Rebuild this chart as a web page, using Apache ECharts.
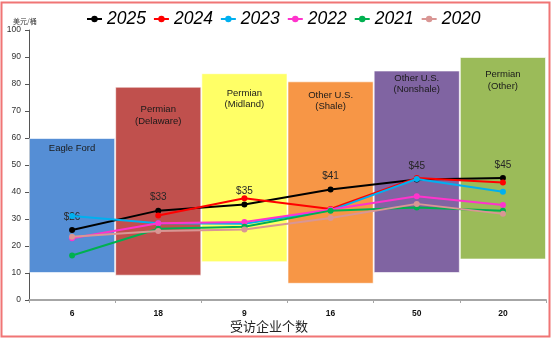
<!DOCTYPE html>
<html>
<head>
<meta charset="utf-8">
<script src="https://cdn.jsdelivr.net/npm/echarts@6/dist/echarts.min.js"></script>
<style>
html,body{margin:0;padding:0;background:#fff;}
#c{width:554px;height:340px;}
</style>
</head>
<body>
<div id="c"></div>
<script>
// ---- data ----
const categories = ['6', '18', '9', '16', '50', '20'];
const regionNames = ['Eagle Ford', 'Permian\n(Delaware)', 'Permian\n(Midland)', 'Other U.S.\n(Shale)', 'Other U.S.\n(Nonshale)', 'Permian\n(Other)'];
const rangeLow  = [10, 9, 14, 6, 10, 15];
const rangeHigh = [60, 79, 84, 81, 85, 90];
const years = ['2025', '2024', '2023', '2022', '2021', '2020'];
const s2025 = [25.9, 33.1, 35.4, 40.9, 44.6, 45.2];
const s2024 = [null, 31.3, 37.7, 33.7, 45.2, 43.5];
const s2023 = [31.1, 28.4, 28.2, 33.2, 44.8, 40.1];
const s2022 = [22.9, 28.4, 28.9, 33.5, 38.4, 35.2];
const s2021 = [16.5, 26.4, 27.1, 33.1, 34.3, 33.1];
const s2020 = [23.4, 25.6, 26.1, 30.4, 35.6, 31.9];
const yTicks = [0, 10, 20, 30, 40, 50, 60, 70, 80, 90, 100];

// ---- styles ----
const barColors = ['#558ED5', '#C0504D', '#FFFF66', '#F79646', '#8064A2', '#9BBB59'];
const barLabelDist = [5, 17, 14, 8, 2, 12];
const lineColors = ['#000000', '#FF0000', '#00B0F0', '#FF33CC', '#00B050', '#D99694'];
const lineSeriesData = [s2025, s2024, s2023, s2022, s2021, s2020];
const FONT = 'Liberation Sans, Arial, sans-serif';

const chart = echarts.init(document.getElementById('c'));

const series = [
  {
    type: 'bar', stack: 'range', barWidth: '100%', silent: true,
    itemStyle: { color: 'transparent' },
    data: rangeLow
  },
  {
    type: 'bar', stack: 'range', barWidth: '100%', silent: true,
    data: rangeHigh.map((h, i) => ({
      value: h - rangeLow[i],
      itemStyle: { color: barColors[i], borderColor: 'rgba(255,255,255,0.6)', borderWidth: 1 },
      label: { distance: barLabelDist[i] }
    })),
    label: {
      show: true, position: 'insideTop',
      formatter: p => regionNames[p.dataIndex],
      fontFamily: FONT, fontSize: 9.5, lineHeight: 11.5, color: '#1a1a1a'
    }
  }
];

years.forEach((y, k) => {
  series.push({
    name: y, type: 'line', data: lineSeriesData[k],
    symbol: 'circle', symbolSize: 6,
    lineStyle: { color: lineColors[k], width: 2 },
    itemStyle: { color: lineColors[k] },
    z: 3 + k,
    label: k === 0 ? {
      show: true, position: 'top', distance: 5,
      formatter: p => '$' + Math.round(p.value),
      fontFamily: FONT, fontSize: 10, color: '#262626'
    } : { show: false }
  });
});

chart.setOption({
  animation: false,
  backgroundColor: '#fff',
  grid: { left: 29, right: 8, top: 30, bottom: 40 },
  title: [
    { text: '美元/桶', left: 8, top: 13,
      textStyle: { fontFamily: 'Noto Sans CJK SC', fontSize: 7, fontWeight: 'normal', color: '#333' } },
    { text: '受访企业个数', left: 225, top: 315,
      textStyle: { fontFamily: 'Noto Sans CJK SC', fontSize: 13, fontWeight: 'normal', color: '#222' } }
  ],
  legend: {
    data: years, left: 81, top: 5,
    itemWidth: 15, itemHeight: 8, itemGap: 7,
    textStyle: { fontFamily: FONT, fontStyle: 'italic', fontSize: 17.5, color: '#000' }
  },
  xAxis: {
    type: 'category', data: categories,
    axisLine: { lineStyle: { color: '#A6A6A6', width: 2 } },
    axisTick: { show: true, length: 3, lineStyle: { color: '#A6A6A6' } },
    axisLabel: { fontFamily: FONT, fontSize: 8.5, fontWeight: 'bold', color: '#111', margin: 9 }
  },
  yAxis: {
    type: 'value', min: yTicks[0], max: yTicks[yTicks.length - 1], interval: 10,
    splitLine: { show: false },
    axisLine: { show: true, lineStyle: { color: '#555', width: 1 } },
    axisTick: { show: true, length: 4, lineStyle: { color: '#555' } },
    axisLabel: { fontFamily: FONT, fontSize: 8.5, color: '#333', margin: 8 }
  },
  graphic: [{
    type: 'rect', silent: true, z: 100,
    shape: { x: 1.5, y: 2.5, width: 548, height: 334 },
    style: { fill: 'none', stroke: '#F07575', lineWidth: 2 }
  }],
  series: series
});
</script>
</body>
</html>
